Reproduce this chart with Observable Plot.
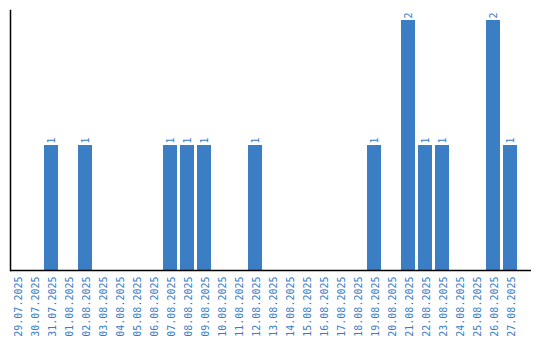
<!DOCTYPE html>
<html>
<head>
<meta charset="utf-8">
<script src="https://cdn.jsdelivr.net/npm/d3@7"></script>
<script src="https://cdn.jsdelivr.net/npm/@observablehq/plot@0.6"></script>
<style>
  html, body { margin: 0; padding: 0; background: #fff; }
</style>
</head>
<body>
<div id="chart"></div>
<script>
const dates = ["29.07.2025","30.07.2025","31.07.2025","01.08.2025","02.08.2025","03.08.2025","04.08.2025","05.08.2025","06.08.2025","07.08.2025","08.08.2025","09.08.2025","10.08.2025","11.08.2025","12.08.2025","13.08.2025","14.08.2025","15.08.2025","16.08.2025","17.08.2025","18.08.2025","19.08.2025","20.08.2025","21.08.2025","22.08.2025","23.08.2025","24.08.2025","25.08.2025","26.08.2025","27.08.2025"];
const counts = [0,0,1,0,1,0,0,0,0,1,1,1,0,0,1,0,0,0,0,0,0,1,0,2,1,1,0,0,2,1];

const data = dates.map((d, i) => ({date: d, count: counts[i]}));
const blue = "#3b7ec4";
const textBlue = "#3a7cc6";

const chart = Plot.plot({
  width: 540,
  height: 340,
  marginLeft: 10,
  marginRight: 9,
  marginTop: 10,
  marginBottom: 70,
  style: {fontFamily: "DejaVu Sans Mono", fontSize: "10px", background: "#fff"},
  x: {domain: dates, paddingInner: 3 / 17, paddingOuter: 0.412, align: 0, round: false, label: null},
  y: {domain: [0, 2.08], axis: null},
  marks: [
    Plot.barY(data, {x: "date", y: "count", fill: blue}),
    Plot.text(data.filter(d => d.count > 0), {
      x: "date", y: "count", text: d => String(d.count),
      rotate: -90, textAnchor: "start", dy: -2, fill: textBlue,
      fontFamily: "DejaVu Sans Mono", fontSize: 10
    }),
    Plot.axisX({
      tickSize: 0, tickPadding: 6, rotate: -90, textAnchor: "end", dx: -3,
      fill: textBlue, label: null, fontSize: 10
    }),
    Plot.ruleY([0], {stroke: "#000", strokeWidth: 1.5}),
    Plot.frame({anchor: "left", stroke: "#000", strokeWidth: 1.5})
  ]
});
document.getElementById("chart").appendChild(chart);
</script>
</body>
</html>
